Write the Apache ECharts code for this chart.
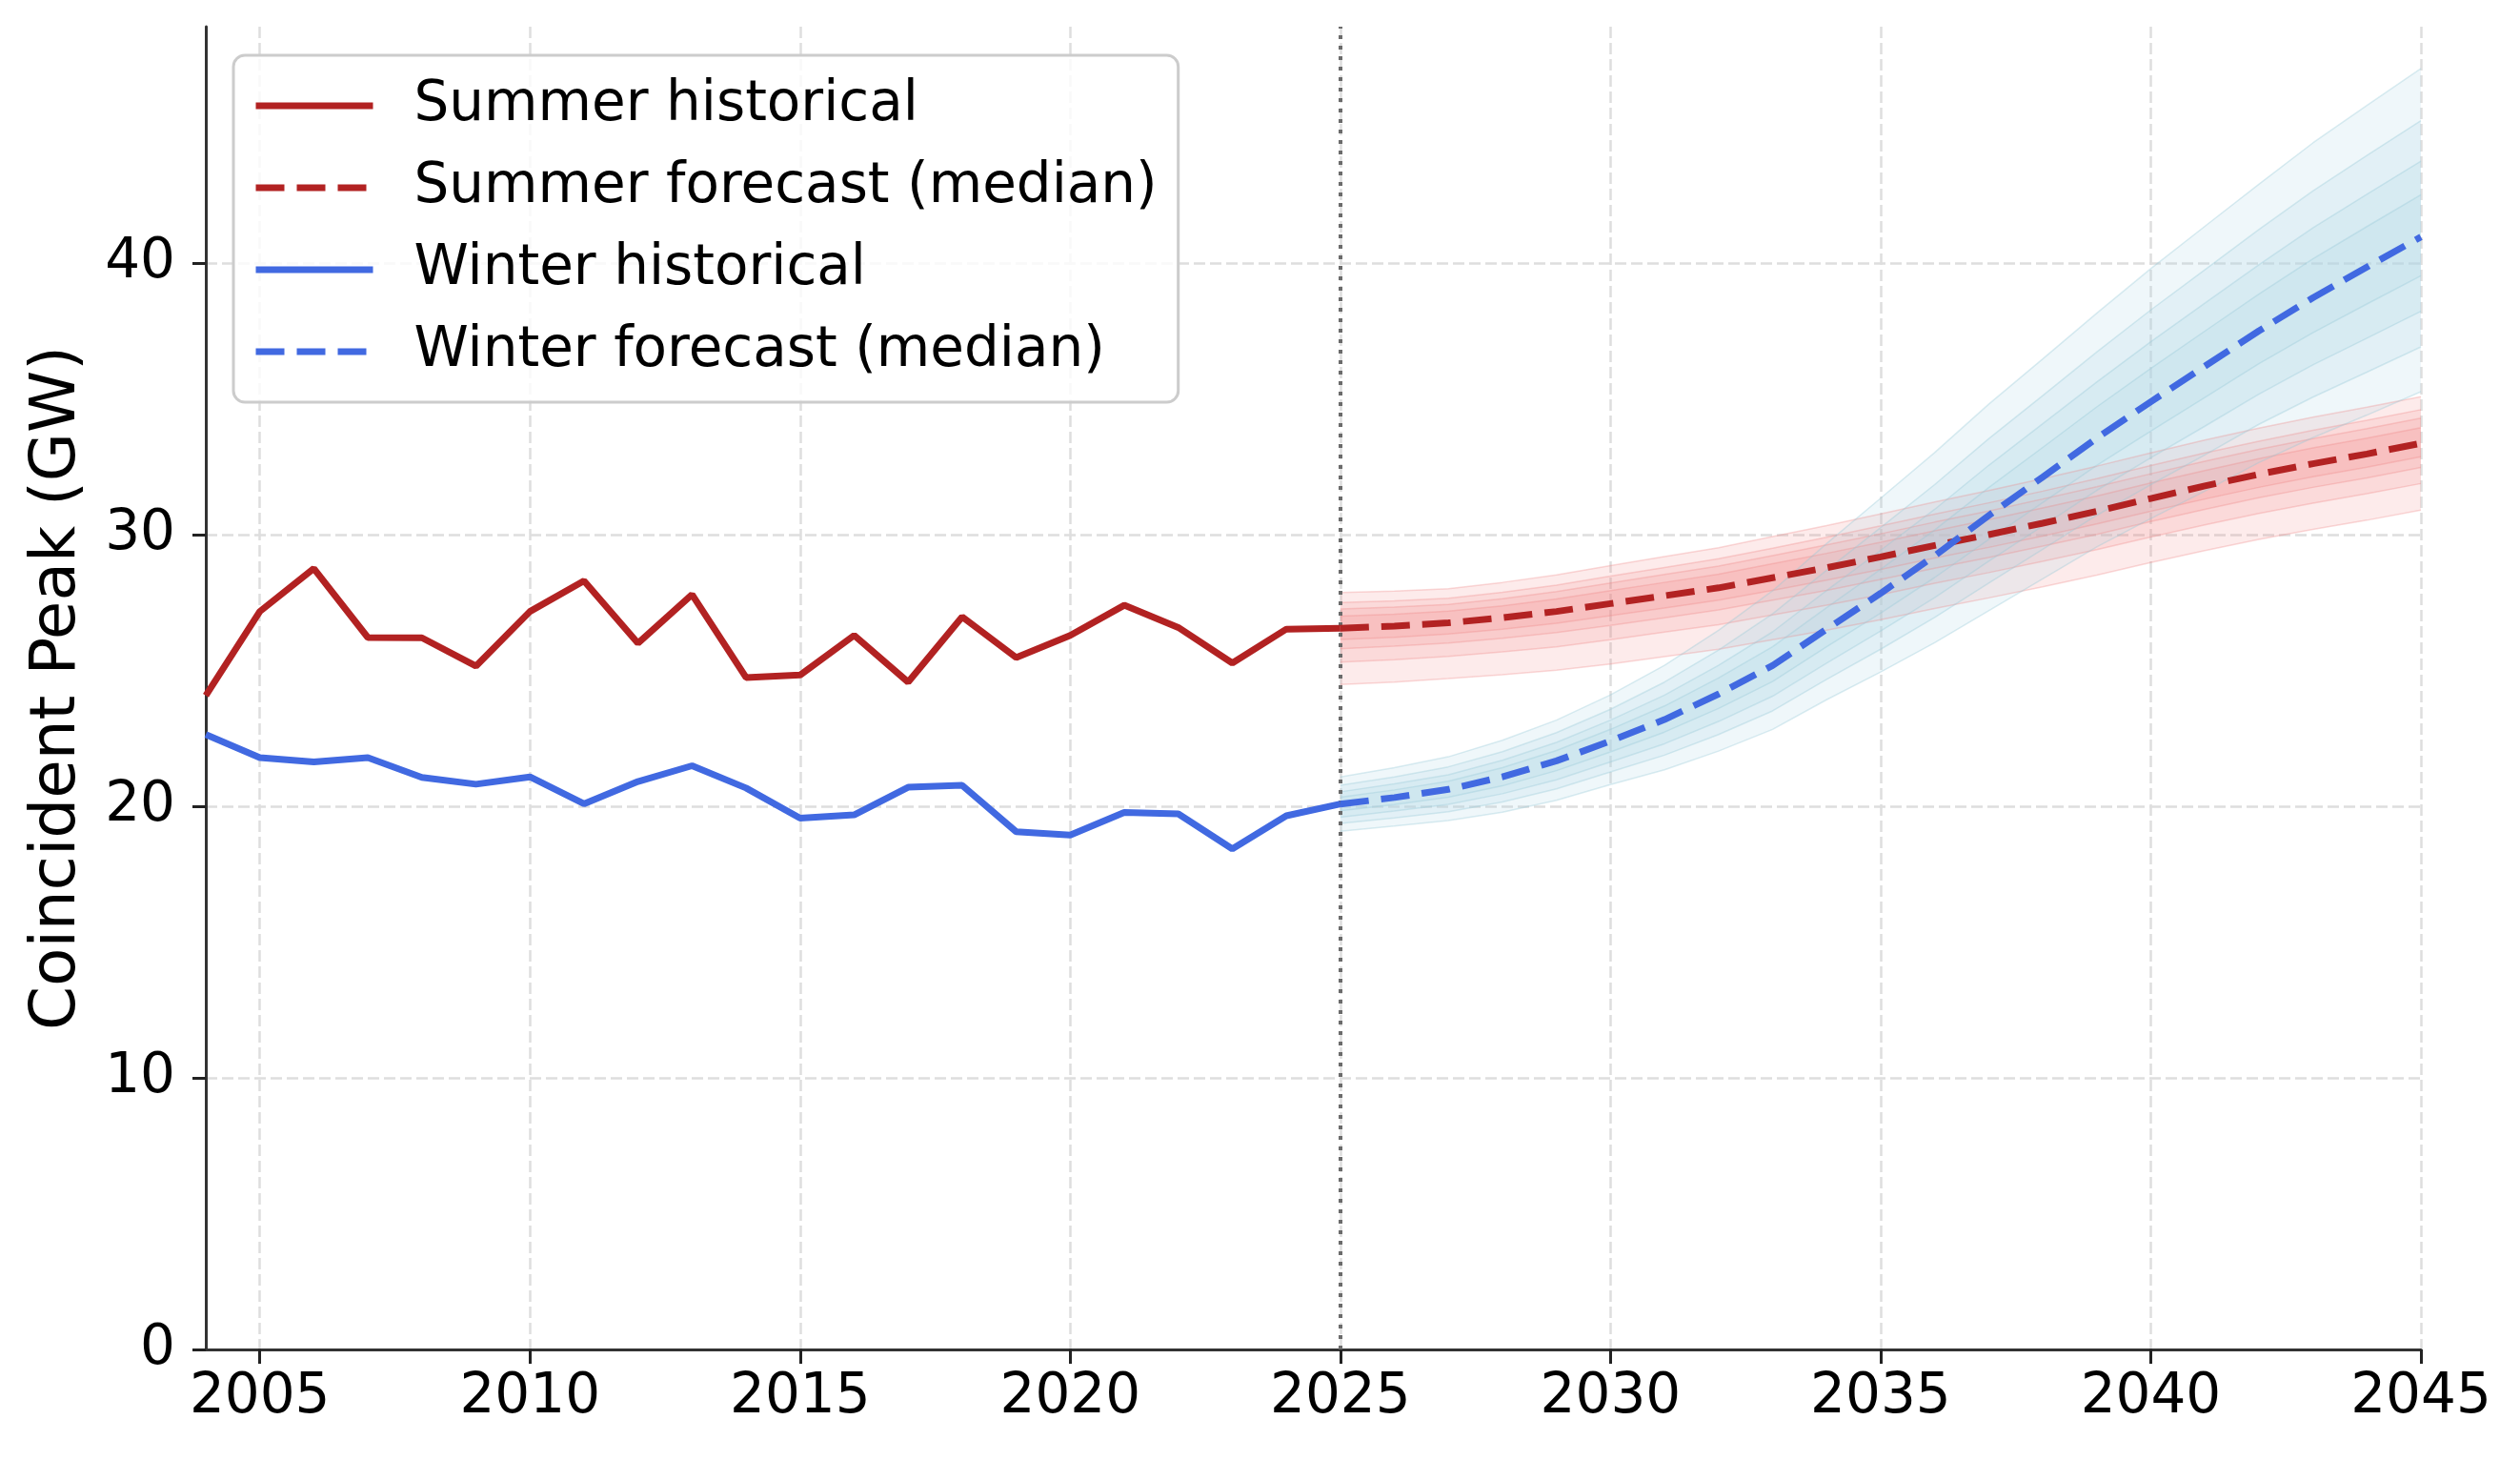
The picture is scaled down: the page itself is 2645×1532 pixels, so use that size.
<!DOCTYPE html>
<html>
<head>
<meta charset="utf-8">
<script src="https://cdn.jsdelivr.net/npm/echarts@6/dist/echarts.min.js"></script>
<style>
html,body{margin:0;padding:0;background:#ffffff;}
#chart{width:2645px;height:1532px;}
</style>
</head>
<body>
<div id="chart"></div>
<script>
// ---------- DATA ----------
const allYears = [2004,2005,2006,2007,2008,2009,2010,2011,2012,2013,2014,2015,2016,2017,2018,2019,2020,2021,2022,2023,2024,2025,2026,2027,2028,2029,2030,2031,2032,2033,2034,2035,2036,2037,2038,2039,2040,2041,2042,2043,2044,2045];
const histYears = [2004,2005,2006,2007,2008,2009,2010,2011,2012,2013,2014,2015,2016,2017,2018,2019,2020,2021,2022,2023,2024,2025];
const summerHist = [24.07,27.17,28.75,26.21,26.20,25.16,27.17,28.30,26.00,27.79,24.74,24.83,26.29,24.57,26.97,25.47,26.29,27.40,26.58,25.27,26.52,26.55];
const winterHist = [22.64,21.79,21.63,21.79,21.06,20.81,21.08,20.09,20.91,21.49,20.67,19.56,19.68,20.70,20.77,19.06,18.94,19.77,19.72,18.43,19.65,20.08];

const fcYears = [2025,2026,2027,2028,2029,2030,2031,2032,2033,2034,2035,2036,2037,2038,2039,2040,2041,2042,2043,2044,2045];

const summerMed = [26.55,26.63,26.75,26.94,27.17,27.46,27.75,28.04,28.41,28.78,29.18,29.60,30.00,30.42,30.86,31.33,31.79,32.22,32.61,32.97,33.36];
const summerUp1 = [27.87,27.92,28.01,28.24,28.52,28.86,29.19,29.52,29.93,30.33,30.76,31.20,31.62,32.06,32.52,33.01,33.48,33.92,34.32,34.69,35.08];
const summerUp2 = [27.50,27.56,27.66,27.88,28.14,28.47,28.79,29.11,29.50,29.90,30.32,30.75,31.17,31.60,32.06,32.54,33.01,33.44,33.84,34.21,34.60];
const summerUp3 = [27.26,27.33,27.43,27.64,27.90,28.22,28.53,28.84,29.23,29.62,30.03,30.46,30.87,31.31,31.76,32.24,32.70,33.14,33.53,33.90,34.29];
const summerUp4 = [27.00,27.07,27.18,27.38,27.63,27.94,28.24,28.54,28.93,29.31,29.72,30.14,30.55,30.98,31.42,31.90,32.36,32.80,33.19,33.55,33.94];
const summerLo4 = [26.14,26.22,26.34,26.52,26.74,27.02,27.30,27.59,27.95,28.32,28.72,29.14,29.53,29.95,30.39,30.86,31.31,31.74,32.13,32.48,32.87];
const summerLo3 = [25.80,25.89,26.01,26.18,26.39,26.66,26.94,27.23,27.59,27.95,28.35,28.76,29.16,29.58,30.01,30.48,30.93,31.36,31.74,32.09,32.47];
const summerLo2 = [25.31,25.39,25.52,25.68,25.87,26.13,26.41,26.68,27.04,27.40,27.79,28.21,28.60,29.02,29.45,29.91,30.36,30.78,31.16,31.51,31.88];
const summerLo1 = [24.48,24.57,24.70,24.84,25.01,25.24,25.51,25.78,26.13,26.48,26.87,27.28,27.67,28.08,28.51,28.97,29.41,29.82,30.19,30.53,30.90];

const winterMed = [20.08,20.32,20.62,21.08,21.67,22.40,23.19,24.13,25.18,26.52,27.84,29.22,30.70,32.12,33.55,34.89,36.20,37.50,38.72,39.85,40.96];
const winterUp1 = [21.08,21.42,21.82,22.43,23.17,24.10,25.19,26.48,27.93,29.67,31.34,33.02,34.80,36.47,38.15,39.79,41.35,42.90,44.42,45.80,47.16];
const winterUp2 = [20.77,21.08,21.45,22.01,22.71,23.57,24.57,25.75,27.08,28.69,30.26,31.84,33.53,35.12,36.72,38.27,39.75,41.23,42.65,43.96,45.24];
const winterUp3 = [20.53,20.82,21.16,21.69,22.35,23.17,24.09,25.19,26.42,27.94,29.42,30.93,32.55,34.08,35.62,37.10,38.52,39.93,41.29,42.53,43.75];
const winterUp4 = [20.33,20.60,20.92,21.42,22.05,22.83,23.69,24.72,25.87,27.31,28.72,30.17,31.73,33.21,34.70,36.12,37.49,38.85,40.15,41.34,42.51];
const winterLo4 = [19.83,20.06,20.33,20.75,21.31,22.00,22.73,23.60,24.59,25.87,27.11,28.42,29.82,31.18,32.55,33.81,35.05,36.29,37.43,38.49,39.53];
const winterLo3 = [19.60,19.82,20.07,20.46,20.97,21.63,22.30,23.12,24.05,25.27,26.45,27.68,29.02,30.32,31.63,32.83,33.99,35.17,36.25,37.23,38.22];
const winterLo2 = [19.37,19.57,19.80,20.16,20.64,21.26,21.88,22.64,23.51,24.67,25.78,26.95,28.21,29.46,30.71,31.84,32.93,34.06,35.06,35.98,36.91];
const winterLo1 = [19.08,19.27,19.47,19.78,20.22,20.80,21.34,22.03,22.83,23.92,24.94,26.02,27.20,28.37,29.55,30.59,31.60,32.65,33.57,34.40,35.26];

const xTicks = [2005,2010,2015,2020,2025,2030,2035,2040,2045];
const yTicks = [0,10,20,30,40];
const forecastStart = 2025;

const names = ['Summer historical','Summer forecast (median)','Winter historical','Winter forecast (median)'];

// ---------- BUILD ----------
const FONT = 'DejaVu Sans';
const SUMMER = '#b22222';
const WINTER = '#4169e1';
const SUMMER_BAND = 'rgba(240,128,128,0.16)';
const SUMMER_EDGE = 'rgba(240,128,128,0.30)';
const WINTER_BAND = 'rgba(173,216,230,0.20)';
const WINTER_EDGE = 'rgba(150,200,215,0.35)';

const categories = allYears.map(String);
function pairs(xs, ys){ return xs.map((x,i)=>[String(x), ys[i]]); }
const isTickYear = (idx, val) => xTicks.indexOf(Number(val)) >= 0;

function bandSeries(id, lo, up, fill, edge){
  const diff = up.map((u,i)=> +(u - lo[i]).toFixed(4));
  return [
    {type:'line', id:id+'_lo', stack:id, data:pairs(fcYears, lo), symbol:'none', silent:true,
     lineStyle:{width:1.5, color:edge}, emphasis:{disabled:true}},
    {type:'line', id:id+'_hi', stack:id, data:pairs(fcYears, diff), symbol:'none', silent:true,
     lineStyle:{width:1.5, color:edge}, areaStyle:{color:fill, opacity:1}, emphasis:{disabled:true}}
  ];
}

const series = [];
[[summerLo1,summerUp1],[summerLo2,summerUp2],[summerLo3,summerUp3],[summerLo4,summerUp4]].forEach((b,k)=>{
  series.push(...bandSeries('s'+k, b[0], b[1], SUMMER_BAND, SUMMER_EDGE));
});
[[winterLo1,winterUp1],[winterLo2,winterUp2],[winterLo3,winterUp3],[winterLo4,winterUp4]].forEach((b,k)=>{
  series.push(...bandSeries('w'+k, b[0], b[1], WINTER_BAND, WINTER_EDGE));
});

series.push({
  type:'line', name:names[0], data:pairs(histYears, summerHist), symbol:'none', color:SUMMER,
  lineStyle:{width:7, color:SUMMER}, z:5,
  markLine:{silent:true, symbol:['none','none'], label:{show:false},
    lineStyle:{color:'#6b6b6b', width:4, type:[4,7]},
    data:[{xAxis:String(forecastStart)}]}
});
series.push({
  type:'line', name:names[1], data:pairs(fcYears, summerMed), symbol:'none', color:SUMMER,
  lineStyle:{width:7, color:SUMMER, type:[30,13]}, z:5
});
series.push({
  type:'line', name:names[2], data:pairs(histYears, winterHist), symbol:'none', color:WINTER,
  lineStyle:{width:7, color:WINTER}, z:5
});
series.push({
  type:'line', name:names[3], data:pairs(fcYears, winterMed), symbol:'none', color:WINTER,
  lineStyle:{width:7, color:WINTER, type:[30,13]}, z:5
});

const gridLineStyle = {color:'#dedede', width:2.5, type:[12,5]};

const option = {
  animation:false,
  backgroundColor:'#ffffff',
  grid:{left:216, right:104, top:28, bottom:116, containLabel:false, outerBoundsMode:'none'},
  legend:{
    data:names, orient:'vertical', left:245, top:58,
    padding:[18,22,18,20], itemGap:16, itemWidth:123, itemHeight:20,
    backgroundColor:'rgba(255,255,255,0.8)', borderColor:'#cccccc', borderWidth:3, borderRadius:12,
    selectedMode:false,
    lineStyle:{width:7},
    itemStyle:{opacity:0},
    textStyle:{fontSize:58, fontFamily:FONT, color:'#000000', lineHeight:70, padding:[0,0,0,38]}
  },
  xAxis:{
    type:'category', data:categories, boundaryGap:false,
    axisLine:{show:true, onZero:false, lineStyle:{color:'#333333', width:3}},
    axisTick:{show:true, interval:isTickYear, length:15, lineStyle:{color:'#222222', width:3}},
    axisLabel:{interval:isTickYear, fontSize:58, fontFamily:FONT, color:'#000000', margin:22},
    splitLine:{show:true, interval:isTickYear, lineStyle:gridLineStyle}
  },
  yAxis:{
    type:'value', min:0, max:48.7,
    name:'Coincident Peak (GW)', nameLocation:'middle', nameGap:122,
    nameTextStyle:{fontSize:66, fontFamily:FONT, color:'#000000'},
    axisLine:{show:true, onZero:false, lineStyle:{color:'#333333', width:3}},
    axisTick:{show:true, customValues:yTicks, length:14, lineStyle:{color:'#222222', width:3}},
    axisLabel:{customValues:yTicks, fontSize:58, fontFamily:FONT, color:'#000000', margin:32,
      formatter:(v)=>String(v)},
    splitLine:{show:true, lineStyle:gridLineStyle}
  },
  series:series
};

const chart = echarts.init(document.getElementById('chart'), null, {renderer:'canvas', width:2645, height:1532});
chart.setOption(option);
</script>
</body>
</html>
